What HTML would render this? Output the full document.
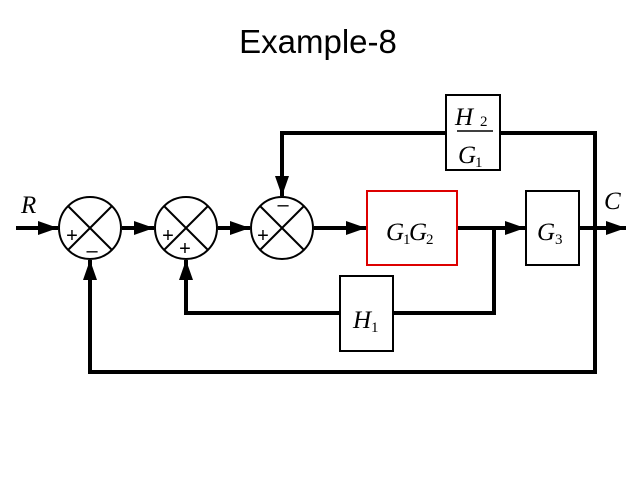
<!DOCTYPE html>
<html><head><style>html,body{margin:0;padding:0;background:#fff;width:638px;height:479px;overflow:hidden}</style></head>
<body>
<svg width="638" height="479" xmlns="http://www.w3.org/2000/svg">
<defs><marker id="a" markerWidth="5" markerHeight="3.5" refX="5" refY="1.75" orient="auto" markerUnits="strokeWidth"><path d="M0,0 L5,1.75 L0,3.5 Z" fill="#000"/></marker></defs>
<text x="318" y="53" text-anchor="middle" font-family="Liberation Sans, sans-serif" font-size="33">Example-8</text>
<g stroke="#000" stroke-width="4" fill="none">
<line x1="16" y1="228" x2="58" y2="228" marker-end="url(#a)"/>
<line x1="122" y1="228" x2="154" y2="228" marker-end="url(#a)"/>
<line x1="218" y1="228" x2="250" y2="228" marker-end="url(#a)"/>
<line x1="314" y1="228" x2="366" y2="228" marker-end="url(#a)"/>
<line x1="457" y1="228" x2="525" y2="228" marker-end="url(#a)"/>
<line x1="579" y1="228" x2="626" y2="228" marker-end="url(#a)"/>
<polyline points="446,133 282,133 282,196" marker-end="url(#a)"/>
<polyline points="500,133 595,133 595,372 90,372 90,260" marker-end="url(#a)"/>
<polyline points="494,228 494,313 393,313"/>
<polyline points="340,313 186,313 186,260" marker-end="url(#a)"/>
</g>
<g stroke="#000" stroke-width="2" fill="#fff">
<rect x="446" y="95" width="54" height="75"/>
<rect x="526" y="191" width="53" height="74"/>
<rect x="340" y="276" width="53" height="75"/>
<rect x="367" y="191" width="90" height="74" stroke="#d00"/>
</g>
<g stroke="#000" stroke-width="2" fill="#fff">
<circle cx="90" cy="228" r="31"/><circle cx="186" cy="228" r="31"/><circle cx="282" cy="228" r="31"/>
<path d="M68,206 L112,250 M112,206 L68,250 M164,206 L208,250 M208,206 L164,250 M260,206 L304,250 M304,206 L260,250" fill="none"/>
</g>
<g font-family="Liberation Sans, sans-serif" font-size="20" text-anchor="middle">
<text x="72" y="242">+</text><text x="92" y="257">–</text>
<text x="168" y="242">+</text><text x="185" y="255">+</text>
<text x="263" y="242">+</text><text x="283" y="211">–</text>
</g>
<line x1="457" y1="131" x2="493" y2="131" stroke="#000" stroke-width="1.5"/>
<g font-family="Liberation Serif, serif" font-style="italic" font-size="25">
<text x="21" y="213">R</text><text x="604" y="209">C</text>
<text x="455" y="125">H</text><text x="458" y="163">G</text>
<text x="386" y="240">G</text><text x="409" y="240">G</text>
<text x="537" y="240">G</text><text x="353" y="328">H</text>
</g>
<g font-family="Liberation Serif, serif" font-size="15">
<text x="480" y="126">2</text><text x="475" y="167">1</text>
<text x="403" y="244">1</text><text x="426" y="244">2</text>
<text x="555" y="244">3</text><text x="371" y="332">1</text>
</g>
</svg>
</body></html>
